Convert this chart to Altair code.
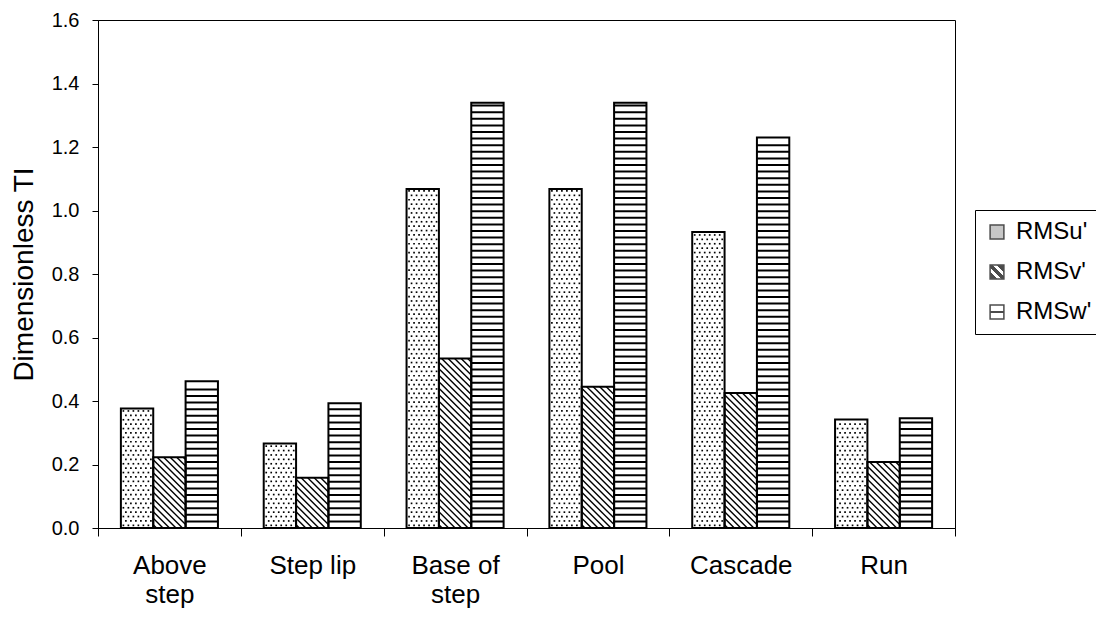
import json
import altair as alt
import pandas as pd

# ---------------- data ----------------
categories = ["Above step", "Step lip", "Base of step", "Pool", "Cascade", "Run"]
tick_lines = [["Above", "step"], ["Step lip"], ["Base of", "step"], ["Pool"], ["Cascade"], ["Run"]]
series = ["RMSu'", "RMSv'", "RMSw'"]
rms_u = [0.376, 0.266, 1.068, 1.068, 0.932, 0.342]
rms_v = [0.223, 0.158, 0.534, 0.445, 0.425, 0.208]
rms_w = [0.462, 0.393, 1.339, 1.339, 1.230, 0.346]
y_ticks = [0.0, 0.2, 0.4, 0.6, 0.8, 1.0, 1.2, 1.4, 1.6]

rows = []
for i, c in enumerate(categories):
    for j, (s, vals) in enumerate(zip(series, [rms_u, rms_v, rms_w])):
        rows.append({"cat": c, "idx": i, "series": s, "sidx": j, "value": vals[i]})
df = pd.DataFrame(rows)

# ---------------- geometry / style ----------------
FONT = "Liberation Sans"
PW, PH = 857, 508
XMAX, YMAX = len(categories), 1.6
PX = XMAX / PW          # data units per pixel (x)
PY = YMAX / PH          # data units per pixel (y)
BW = 0.2265             # bar width in category units
WPX = BW / PX           # bar width in pixels

xs = alt.Scale(domain=[0, XMAX], nice=False, zero=False)
ys = alt.Scale(domain=[0, YMAX], nice=False)

label_expr = f"{json.dumps(tick_lines + [['']])}[round(datum.value)]"

xaxis = alt.Axis(values=list(range(len(categories) + 1)), labelExpr=label_expr,
                 labelOffset=PW / XMAX / 2, tickSize=8, labelFontSize=26,
                 labelLineHeight=29, labelPadding=16, labelFlush=False,
                 labelOverlap=False, labelBound=False, grid=False, title=None)
yaxis = alt.Axis(values=y_ticks, format=".1f", tickSize=6, labelPadding=13,
                 labelFontSize=20, grid=False, title="Dimensionless TI",
                 titleFontSize=28, titleFontWeight="normal", titleX=-60,
                 titleY=PH / 2, titleAlign="center", titleAngle=270,
                 titleBaseline="bottom")


def X(field):
    return alt.X(field, scale=xs, axis=xaxis)


def Y(field):
    return alt.Y(field, scale=ys, axis=yaxis)


base = alt.Chart(df).transform_calculate(
    x0=f"datum.idx + 0.5 + (datum.sidx - 1) * {BW} - {BW / 2}"
).transform_calculate(
    x1=f"datum.x0 + {BW}"
)

# dotted fill for RMSu'
DY = 4.4 * PY
dots = base.transform_filter("datum.sidx == 0").transform_calculate(
    rowsq=f"sequence({DY * 0.6}, datum.value - {DY * 0.3}, {DY})"
).transform_flatten(["rowsq"], as_=["ry"]).transform_calculate(
    rn=f"round((datum.ry - {DY * 0.6}) / {DY})"
).transform_calculate(
    colsq=f"sequence(2.5 + (datum.rn % 2) * 2.5, {WPX - 1.5}, 5)"
).transform_flatten(["colsq"], as_=["cx"]).transform_calculate(
    px=f"datum.x0 + datum.cx * {PX}"
).mark_square(size=2.8, color="black", filled=True, opacity=1).encode(
    x=X("px:Q"),
    y=Y("ry:Q"),
)

# diagonal hatch for RMSv'
S = 6.5
diag = base.transform_filter("datum.sidx == 1").transform_calculate(
    hp=f"datum.value / {PY}"
).transform_calculate(
    ks=f"sequence({S / 2}, {WPX} + datum.hp, {S})"
).transform_flatten(["ks"], as_=["k"]).transform_calculate(
    xa="max(0, datum.k - datum.hp)"
).transform_calculate(
    xb=f"min({WPX}, datum.k)"
).transform_calculate(
    ax=f"datum.x0 + datum.xa * {PX}"
).transform_calculate(
    bx=f"datum.x0 + datum.xb * {PX}"
).transform_calculate(
    ay=f"(datum.k - datum.xa) * {PY}"
).transform_calculate(
    by=f"(datum.k - datum.xb) * {PY}"
).mark_rule(color="black", strokeWidth=1.4).encode(
    x=X("ax:Q"),
    x2="bx:Q",
    y=Y("ay:Q"),
    y2="by:Q",
)

# horizontal stripes for RMSw'
SY = 6.6 * PY
stripes = base.transform_filter("datum.sidx == 2").transform_calculate(
    ss=f"sequence({SY}, datum.value - {SY * 0.4}, {SY})"
).transform_flatten(["ss"], as_=["sy"]).mark_rule(color="black", strokeWidth=2).encode(
    x=X("x0:Q"),
    x2="x1:Q",
    y=Y("sy:Q"),
)

# bar outlines
outline = base.mark_rect(fillOpacity=0, stroke="black", strokeWidth=2).encode(
    x=X("x0:Q"),
    x2="x1:Q",
    y=Y("value:Q"),
    y2=alt.datum(0),
)

# legend (symbols clipped out of the plot; only the legend shows)
grad_v = ("{gradient:'linear',x1:0,y1:1,x2:1,y2:0,stops:["
          "{offset:0,color:'black'},{offset:0.28,color:'black'},"
          "{offset:0.28,color:'white'},{offset:0.42,color:'white'},"
          "{offset:0.42,color:'black'},{offset:0.58,color:'black'},"
          "{offset:0.58,color:'white'},{offset:0.72,color:'white'},"
          "{offset:0.72,color:'black'},{offset:1,color:'black'}]}")
grad_w = ("{gradient:'linear',x1:0,y1:0,x2:0,y2:1,stops:["
          "{offset:0,color:'white'},{offset:0.4,color:'white'},"
          "{offset:0.4,color:'black'},{offset:0.6,color:'black'},"
          "{offset:0.6,color:'white'},{offset:1,color:'white'}]}")

legend_layer = alt.Chart(df).transform_calculate(off="-1").mark_square(
    clip=True, size=190, filled=True
).encode(
    x=X("idx:Q"),
    y=Y("off:Q"),
    color=alt.Color(
        "series:N",
        scale=alt.Scale(domain=series,
                        range=["#b0b0b0", alt.ExprRef(expr=grad_v), alt.ExprRef(expr=grad_w)]),
        legend=alt.Legend(
            title=None, orient="none", legendX=877, legendY=190,
            direction="vertical", strokeColor="black", fillColor="white",
            padding=10, rowPadding=16, labelFontSize=24, labelFont=FONT,
            labelColor="black", symbolType="square", symbolSize=190,
            symbolStrokeColor="black", symbolStrokeWidth=1.5, labelOffset=7,
            labelLimit=300,
        ),
    ),
)

chart = alt.layer(dots, diag, stripes, outline, legend_layer).properties(
    width=PW, height=PH,
    autosize=alt.AutoSizeParams(type="none"),
    padding={"left": 90, "top": 12, "right": 141, "bottom": 83},
).configure_axis(
    labelFont=FONT, titleFont=FONT, labelColor="black", titleColor="black",
    domainColor="black", tickColor="black",
).configure_view(stroke="black", strokeWidth=1)

chart.save("out.html", embed_options={"renderer": "svg", "actions": False})
